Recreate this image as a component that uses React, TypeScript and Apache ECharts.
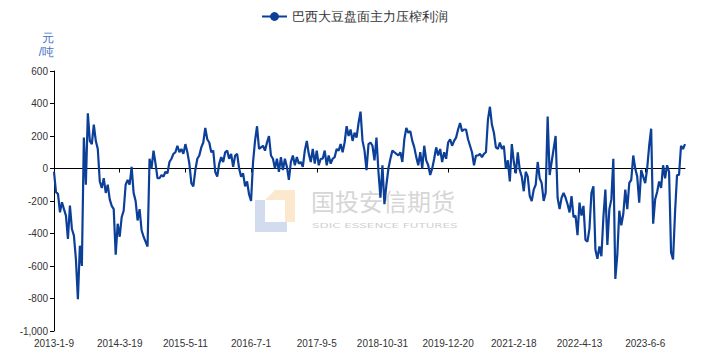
import React, { useEffect, useRef } from 'react';
import * as echarts from 'echarts';

const seriesName = '巴西大豆盘面主力压榨利润';
const yAxisName = '元\n/吨';
const tickLabels = [
  '2013-1-9', '2014-3-19', '2015-5-11', '2016-7-1', '2017-9-5',
  '2018-10-31', '2019-12-20', '2021-2-18', '2022-4-13', '2023-6-6',
];
const labelStep = 33;

const margin2013_2014 = [
  -20, -146, -156, -270, -208, -250, -290, -434, -228, -372, -413, -557, -804, -475, -600, 190,
  -100, 340, 170, 150, 270, 170, 120, -80, -120, -60, -150, -100, -190, -230, -250, -530, -340,
  -420, -300, -260, -100, -70, -100, 10, -150, -200, -320, -250, -380, -420, -450, -480, 60, 0,
  110, 30, -60,
];
const margin2014_2016 = [
  -60, -40, -50, -20, -30, 40, 60, 90, 100, 140, 100, 120, 90, 150, 100, 30, -90, -110, -10, 60,
  80, 130, 160, 250, 180, 160, 100, 110, -20, -50, 30, 70, 40, 100, 110, 60, 90, 10, 80, 90, 0,
  -50, -30, -110, -80, -160, -200, 40, 170, 260, 120, 130, 140, 110,
];
const margin2016_2018 = [
  160, 200, 80, 60, 0, 60, -20, 70, -10, 60, 10, -70, 40, 80, 20, 70, 30, 40, 10, 110, 170, 90,
  40, 120, 30, 110, 20, 60, 60, 110, 20, 80, 30, 60, 70, 120, 110, 150, 100, 160, 260, 200, 240,
  170, 220, 190, 280, 350, 170, 110, -10, 150, 160,
];
const margin2018_2020 = [
  140, 50, 190, -20, -180, 20, -220, -100, 0, 60, 110, 100, 90, 80, 100, 40, 180, 250, 220, 230,
  170, 130, 70, 20, 100, 0, 140, 50, 20, -40, 0, 60, 130, 80, 120, 40, 100, 60, 160, 180, 140,
  170, 190, 240, 280, 230, 240, 240, 180, 140, 100, 20, 80,
];
const margin2020_2022 = [
  80, 90, 70, 90, 100, 300, 380, 270, 220, 130, 120, 160, 120, 140, 0, 50, -80, 150, 40, -30, 100,
  -10, -50, -140, -20, -50, -170, -200, -130, -100, 40, -60, -90, -200, -150, 320, -40, 40, 120,
  200, -180, -250, -180, -150, -180, -220, -270, -170, -300, -290, -410, -210, -290, -230,
];
const margin2022_2024 = [
  -440, -450, -370, -150, -110, -500, -556, -480, -540, -300, -130, -470, -250, -190, 60, -680,
  -530, -260, -350, -280, -130, -250, -90, -70, 80, 0, -50, -210, -10, -50, -90, 0, 140, 245,
  -340, -190, -145, -80, -120, 20, -60, 20, -20, -516, -560, -270, -40, -40, 140, 120, 150,
];

const crushMargin = [
  ...margin2013_2014, ...margin2014_2016, ...margin2016_2018,
  ...margin2018_2020, ...margin2020_2022, ...margin2022_2024,
];
const categories = crushMargin.map((_, i) => String(i));

const lineColor = '#0b3f98';

export default function App() {
  const ref = useRef<HTMLDivElement>(null);
  useEffect(() => {
    const chart = echarts.init(ref.current as HTMLDivElement, null, { renderer: 'svg' });
    chart.setOption({
      animation: false,
      legend: {
        top: 5,
        left: 'center',
        itemWidth: 25,
        itemHeight: 11,
        data: [seriesName],
        textStyle: { fontSize: 13, color: '#333' },
      },
      grid: { left: 54, right: 24, top: 71, bottom: 23 },
      xAxis: [
        {
          type: 'category',
          data: categories,
          boundaryGap: false,
          axisLine: { show: true, onZero: true, lineStyle: { color: '#000', width: 1 } },
          axisTick: { show: true, interval: labelStep - 1, length: 4, lineStyle: { color: '#000' } },
          axisLabel: { show: false },
          splitLine: { show: false },
        },
        {
          type: 'category',
          data: categories,
          boundaryGap: false,
          position: 'bottom',
          axisLine: { show: false, onZero: false },
          axisTick: { show: false },
          axisLabel: {
            interval: labelStep - 1,
            color: '#333',
            fontSize: 10,
            margin: 7,
            formatter: (_v: string, idx: number) =>
              idx % labelStep === 0 ? tickLabels[idx / labelStep] ?? '' : '',
          },
          splitLine: { show: false },
        },
      ],
      yAxis: {
        type: 'value',
        min: -1000,
        max: 600,
        interval: 200,
        name: yAxisName,
        nameLocation: 'end',
        nameGap: 12,
        nameTextStyle: { color: '#4472c4', fontSize: 12, align: 'right', lineHeight: 14 },
        axisLine: { show: true, lineStyle: { color: '#000' } },
        axisTick: { show: true, length: 4, lineStyle: { color: '#000' } },
        axisLabel: { color: '#333', fontSize: 10, margin: 6 },
        splitLine: { show: false },
      },
      series: [
        {
          name: seriesName,
          type: 'line',
          xAxisIndex: 0,
          data: crushMargin,
          showSymbol: false,
          symbol: 'circle',
          symbolSize: 10,
          lineStyle: { width: 2.2, color: lineColor },
          itemStyle: { color: lineColor },
          z: 5,
        },
      ],
      graphic: [
        {
          type: 'polygon',
          z: 0,
          shape: { points: [[265, 200], [275, 190], [295, 190], [295, 222], [285, 222], [285, 200]] },
          style: { fill: '#fbe8cd' },
        },
        {
          type: 'polygon',
          z: 0,
          shape: { points: [[255, 200], [265, 200], [265, 222], [287, 222], [287, 232], [255, 232]] },
          style: { fill: '#d3dcee' },
        },
        {
          type: 'text',
          z: 0,
          x: 311,
          y: 188,
          style: {
            text: '国投安信期货',
            fontSize: 24,
            fontFamily: 'Noto Sans CJK SC',
            fill: '#d6d6d6',
          },
        },
        {
          type: 'text',
          z: 0,
          x: 312,
          y: 222,
          scaleX: 1.7,
          style: {
            text: 'SDIC ESSENCE FUTURES',
            fontSize: 7,
            fontFamily: 'DejaVu Sans',
            fill: '#d0d0d0',
          },
        },
      ],
    });
    return () => chart.dispose();
  }, []);
  return <div ref={ref} style={{ position: 'absolute', left: 0, top: 0, width: 709, height: 354 }} />;
}
